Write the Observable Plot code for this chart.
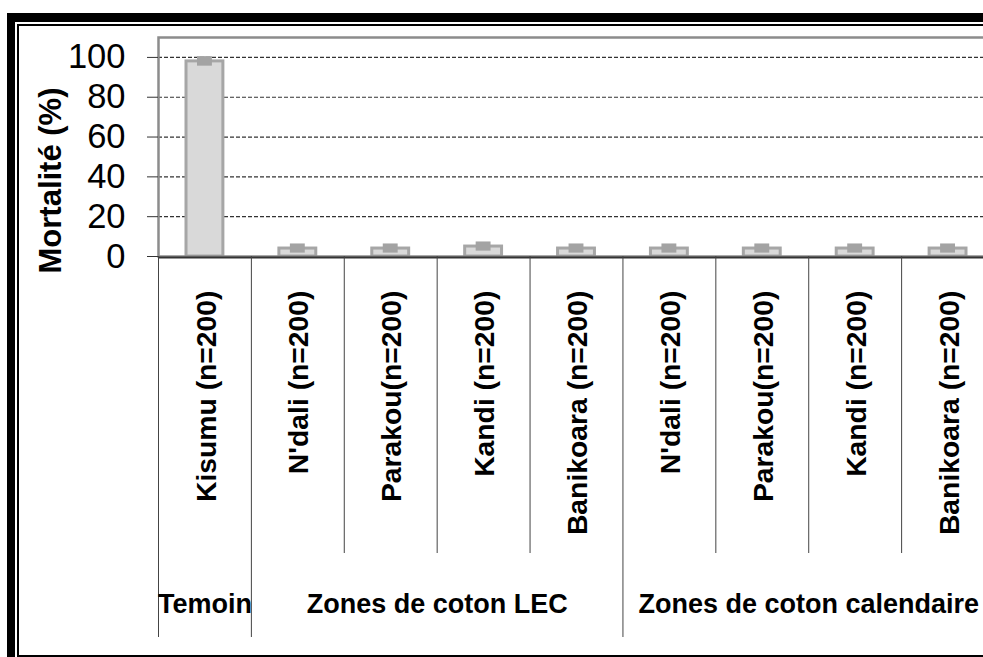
<!DOCTYPE html>
<html><head><meta charset="utf-8">
<script src="https://cdn.jsdelivr.net/npm/d3@7"></script>
<script src="https://cdn.jsdelivr.net/npm/@observablehq/plot@0.6"></script>
<style>
html,body{margin:0;padding:0;background:#fff;overflow:hidden;width:983px;height:657px}
#chart{position:absolute;left:0;top:0}
.outer{position:absolute;left:7px;top:13px;width:2000px;height:2000px;border-left:8px solid #000;border-top:9px solid #000;box-sizing:border-box}
.inner{position:absolute;left:17px;top:24px;width:2000px;height:633px;border:2px solid #000;box-sizing:border-box}
</style></head><body>
<div id="chart"></div><div class="outer"></div><div class="inner"></div>
<script>
const groups = ["Temoin", "Zones de coton LEC", "Zones de coton calendaire"];
const categories = ["Kisumu (n=200)", "N'dali (n=200)", "Parakou(n=200)", "Kandi (n=200)", "Banikoara (n=200)", "N'dali (n=200)", "Parakou(n=200)", "Kandi (n=200)", "Banikoara (n=200)"];
const categoryGroup = [0, 1, 1, 1, 1, 2, 2, 2, 2];
const mortality = [98, 4, 4, 5, 4, 4, 4, 4, 4];
const errors = [2.4, 2.3, 2.3, 2.3, 2.3, 2.3, 2.3, 2.3, 2.3];
const yTicks = [0, 20, 40, 60, 80, 100];
const yLabel = "Mortalité (%)";

const table = categories.map((c, i) => ({key: i + "|" + c, label: c, group: groups[categoryGroup[i]], value: mortality[i], err: errors[i]}));
const keys = table.map(d => d.key);

const W = 1010, H = 657, ML = 158, MR = 16, MT = 37, MB = 401;
const bw = (W - ML - MR) / keys.length;
const FONT = "'Liberation Sans', Arial, sans-serif";

const groupLabels = groups.map((g, gi) => {
  const idx = categoryGroup.map((v, i) => v === gi ? i : -1).filter(i => i >= 0);
  const mid = (idx[0] + idx[idx.length - 1]) / 2;
  return {g, key: keys[Math.ceil(mid)], half: mid !== Math.floor(mid)};
});
const boundaryKeys = keys.filter((k, i) => i === 0 || categoryGroup[i] !== categoryGroup[i - 1]);
const innerKeys = keys.filter((k, i) => i > 0 && categoryGroup[i] === categoryGroup[i - 1]);

const axisBottom = H - MB;
const chart = Plot.plot({
  width: W, height: H,
  marginLeft: ML, marginRight: MR, marginTop: MT, marginBottom: MB,
  style: {background: "none", maxWidth: "none", overflow: "visible", fontFamily: FONT, color: "#000"},
  x: {domain: keys, padding: 0, round: false, axis: null},
  y: {domain: [0, 110]},
  marks: [
    Plot.ruleY(yTicks.filter(t => t > 0), {stroke: "#333", strokeDasharray: "4,2", strokeWidth: 1.2}),
    Plot.barY(table, {x: "key", y: "value", fill: "#d9d9d9", stroke: "#a6a6a6", strokeWidth: 3, insetLeft: 28, insetRight: 28}),
    Plot.barY(table, {x: "key", y1: d => d.value - d.err, y2: d => d.value + d.err, fill: "#a3a3a3", insetLeft: 39, insetRight: 39}),
    Plot.frame({stroke: "#8c8c8c", strokeWidth: 2.5}),
    Plot.ruleY([0], {stroke: "#333", strokeWidth: 2, dy: 1}),
    Plot.axisY({ticks: yTicks, tickSize: 11, tickPadding: 22, fontSize: 34.5, stroke: "#333", fill: "#000", label: null, tickFormat: d => String(d)}),
    Plot.ruleX(innerKeys, {x: d => d, dx: -bw / 2, insetTop: axisBottom - MT, insetBottom: -(553 - axisBottom), stroke: "#444", strokeWidth: 1}),
    Plot.ruleX(boundaryKeys, {x: d => d, dx: -bw / 2, insetTop: axisBottom - MT, insetBottom: -(637 - axisBottom), stroke: "#444", strokeWidth: 1}),
    Plot.ruleX([keys[keys.length - 1]], {x: d => d, dx: bw / 2, insetTop: axisBottom - MT, insetBottom: -(637 - axisBottom), stroke: "#444", strokeWidth: 1}),
    Plot.text(table, {x: "key", text: "label", frameAnchor: "bottom", dx: 1.5, dy: 34, rotate: -90, textAnchor: "end", lineAnchor: "middle", fontSize: 28.3, fontWeight: "bold", fill: "#000"}),
    Plot.text(groupLabels.filter(d => !d.half), {x: "key", text: "g", frameAnchor: "bottom", dy: 347.5, textAnchor: "middle", lineAnchor: "middle", fontSize: 27, fontWeight: "bold", fill: "#000"}),
    Plot.text(groupLabels.filter(d => d.half), {x: "key", text: "g", frameAnchor: "bottom", dx: -bw / 2, dy: 347.5, textAnchor: "middle", lineAnchor: "middle", fontSize: 27, fontWeight: "bold", fill: "#000"}),
    Plot.text([yLabel], {text: d => d, frameAnchor: "left", dx: -107, dy: 33.5, rotate: -90, textAnchor: "middle", lineAnchor: "middle", fontSize: 31, fontWeight: "bold", fill: "#000"})
  ]
});
document.getElementById("chart").appendChild(chart);
</script>
</body></html>
